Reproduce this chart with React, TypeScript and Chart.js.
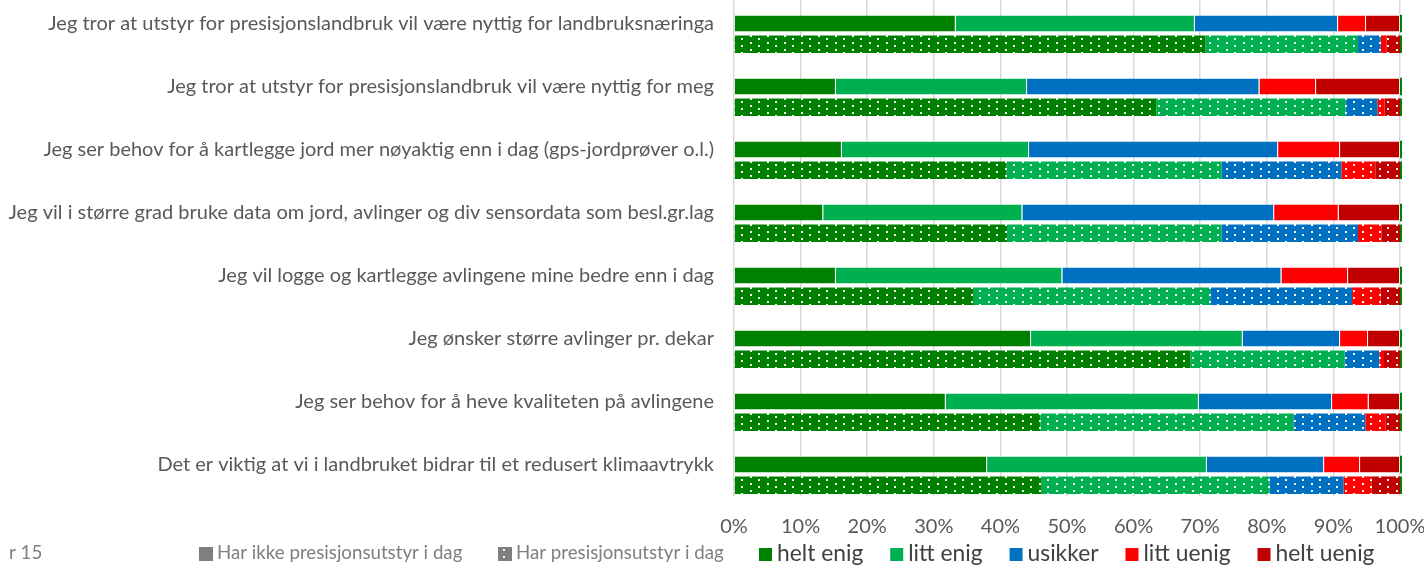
import React, { useEffect, useRef } from 'react';
import { Chart, registerables } from 'chart.js';

Chart.register(...registerables);

const categories = [
  'Jeg tror at utstyr for presisjonslandbruk vil være nyttig for landbruksnæringa',
  'Jeg tror at utstyr for presisjonslandbruk vil være nyttig for meg',
  'Jeg ser behov for å kartlegge jord mer nøyaktig enn i dag (gps-jordprøver o.l.)',
  'Jeg vil i større grad bruke data om jord, avlinger og div sensordata som besl.gr.lag',
  'Jeg vil logge og kartlegge avlingene mine bedre enn i dag',
  'Jeg ønsker større avlinger pr. dekar',
  'Jeg ser behov for å heve kvaliteten på avlingene',
  'Det er viktig at vi i landbruket bidrar til et redusert klimaavtrykk',
];

const answerLabels = ['helt enig', 'litt enig', 'usikker', 'litt uenig', 'helt uenig'];
const answerColors = ['#008000', '#00B050', '#0070C0', '#FF0000', '#C00000'];
const groupLabels = ['Har ikke presisjonsutstyr i dag', 'Har presisjonsutstyr i dag'];
const captionFragment = 'r 15';
const xTicks = [0, 10, 20, 30, 40, 50, 60, 70, 80, 90, 100];

// Har ikke presisjonsutstyr i dag (solid bars), percent
const utenHeltEnig = [33.3, 15.3, 16.2, 13.4, 15.3, 44.6, 31.8, 38.0];
const utenLittEnig = [35.9, 28.7, 28.1, 29.9, 34.0, 31.8, 38.0, 33.0];
const utenUsikker = [21.5, 34.9, 37.4, 37.8, 32.9, 14.6, 20.0, 17.6];
const utenLittUenig = [4.2, 8.5, 9.3, 9.7, 10.0, 4.2, 5.5, 5.4];
const utenHeltUenig = [5.1, 12.6, 9.0, 9.2, 7.8, 4.8, 4.7, 6.0];
const utenRest = [0.3, 0.3, 0.3, 0.3, 0.3, 0.3, 0.3, 0.3];

// Har presisjonsutstyr i dag (dotted bars), percent
const medHeltEnig = [70.8, 63.4, 40.9, 41.0, 36.0, 68.5, 46.0, 46.2];
const medLittEnig = [22.9, 28.4, 32.3, 32.2, 35.5, 23.2, 38.0, 34.2];
const medUsikker = [3.4, 4.8, 18.0, 20.5, 21.3, 5.2, 10.8, 11.1];
const medLittUenig = [0.9, 1.1, 5.1, 3.5, 4.3, 0.7, 3.0, 4.2];
const medHeltUenig = [2.0, 2.3, 3.7, 2.8, 2.9, 2.4, 2.2, 4.3];
const medRest = [0.3, 0.3, 0.3, 0.3, 0.3, 0.3, 0.3, 0.3];

const utenSeries = [utenHeltEnig, utenLittEnig, utenUsikker, utenLittUenig, utenHeltUenig];
const medSeries = [medHeltEnig, medLittEnig, medUsikker, medLittUenig, medHeltUenig];

const FONT = 'Lato, "Noto Sans", sans-serif';

export default function App() {
  const ref = useRef<HTMLCanvasElement>(null);

  useEffect(() => {
    const canvas = ref.current;
    if (!canvas) return;

    const mctx = document.createElement('canvas').getContext('2d')!;
    mctx.font = `100px ${FONT}`;
    const longest = Math.max(...categories.map((c) => mctx.measureText(c).width));
    const labelSize = Math.round(((100 * 706) / longest) * 10) / 10;
    const groupSize = Math.round(labelSize * 0.935 * 10) / 10;
    const answerSize = Math.round(labelSize * 1.14 * 10) / 10;

    const makeDots = (color: string) => {
      const c = document.createElement('canvas');
      c.width = 17;
      c.height = 7;
      const g = c.getContext('2d')!;
      g.fillStyle = color;
      g.fillRect(0, 0, 17, 7);
      g.fillStyle = 'rgba(255,255,255,0.95)';
      g.fillRect(2, 1, 2, 2);
      g.fillRect(10, 4, 2, 2);
      return g.createPattern(c, 'repeat')!;
    };
    const grayDots = makeDots('#7f7f7f');

    const common = {
      barPercentage: 0.845,
      categoryPercentage: 0.986,
    };

    const datasets: any[] = [];
    // empty first slot of each category (keeps labels centred on the solid bar)
    datasets.push({
      label: 'spacer',
      data: categories.map(() => null),
      stack: 'spacer',
      backgroundColor: 'rgba(0,0,0,0)',
      borderWidth: 0,
      ...common,
    });
    utenSeries.forEach((arr, i) => {
      datasets.push({
        label: `${answerLabels[i]} – ${groupLabels[0]}`,
        data: arr,
        stack: 'uten',
        backgroundColor: answerColors[i],
        borderColor: 'rgba(255,255,255,0.35)',
        borderWidth: 1,
        ...common,
      });
    });
    datasets.push({
      label: 'rest uten',
      data: utenRest,
      stack: 'uten',
      backgroundColor: answerColors[0],
      borderWidth: 0,
      clip: false,
      ...common,
    });
    medSeries.forEach((arr, i) => {
      datasets.push({
        label: `${answerLabels[i]} – ${groupLabels[1]}`,
        data: arr,
        stack: 'med',
        backgroundColor: makeDots(answerColors[i]),
        borderWidth: 0,
        ...common,
      });
    });
    datasets.push({
      label: 'rest med',
      data: medRest,
      stack: 'med',
      backgroundColor: answerColors[0],
      borderWidth: 0,
      clip: false,
      ...common,
    });

    const groupX = [199, 498];
    const legendPlugin = {
      id: 'bottomLegend',
      afterDraw(chart: any) {
        const { ctx, chartArea } = chart;
        const cy = chartArea.bottom + 57;
        ctx.save();
        ctx.textBaseline = 'middle';
        ctx.textAlign = 'left';
        ctx.font = `${groupSize}px ${FONT}`;
        ctx.fillStyle = '#7f7f7f';
        ctx.fillText(captionFragment, 9, cy);

        groupLabels.forEach((lab, i) => {
          const x = groupX[i];
          ctx.fillStyle = i === 0 ? '#7f7f7f' : grayDots;
          ctx.fillRect(x, cy - 6, 14, 14);
          ctx.fillStyle = '#7f7f7f';
          ctx.fillText(lab, x + 18, cy);
        });

        let x = 759;
        ctx.font = `${answerSize}px ${FONT}`;
        answerLabels.forEach((lab, i) => {
          ctx.fillStyle = answerColors[i];
          ctx.fillRect(x, cy - 5, 13, 13);
          ctx.fillStyle = '#404040';
          ctx.fillText(lab, x + 18, cy + 1);
          x += 18 + ctx.measureText(lab).width + 27;
        });
        ctx.restore();
      },
    };

    const chart = new Chart(canvas, {
      type: 'bar',
      data: { labels: categories, datasets },
      options: {
        indexAxis: 'y',
        animation: false,
        responsive: true,
        maintainAspectRatio: false,
        layout: { padding: { top: 0, bottom: 32, left: 0, right: 24 } },
        plugins: {
          legend: { display: false },
          tooltip: { enabled: false },
        },
        scales: {
          x: {
            stacked: true,
            min: 0,
            max: 100,
            afterBuildTicks: (scale: any) => {
              scale.ticks = xTicks.map((v) => ({ value: v }));
            },
            afterFit: (scale: any) => {
              scale.height = 40;
              scale.paddingLeft = 0;
              scale.paddingRight = 0;
            },
            grid: { color: '#d9d9d9', lineWidth: 1.5, drawTicks: false },
            border: { display: false },
            ticks: {
              padding: 19,
              color: '#595959',
              font: { family: FONT, size: labelSize },
              callback: (v: any) => `${v}%`,
            },
          },
          y: {
            stacked: true,
            afterFit: (scale: any) => {
              scale.width = 734;
              scale.paddingTop = 0;
              scale.paddingBottom = 0;
            },
            grid: { display: false, drawTicks: false },
            border: { display: false },
            ticks: {
              padding: 20,
              color: '#595959',
              font: { family: FONT, size: labelSize },
            },
          },
        },
      },
      plugins: [legendPlugin],
    });

    return () => chart.destroy();
  }, []);

  return (
    <div style={{ position: 'absolute', left: 0, top: -8, width: 1424, height: 576 }}>
      <canvas ref={ref} />
    </div>
  );
}
